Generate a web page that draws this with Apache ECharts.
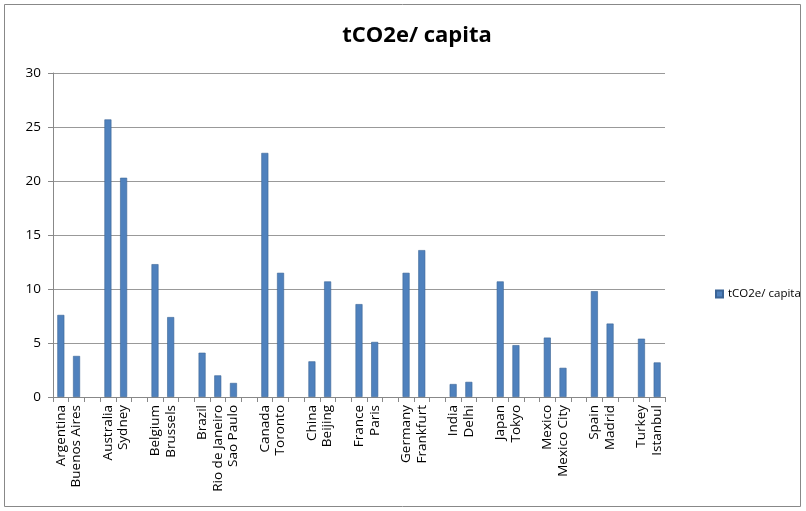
<!DOCTYPE html>
<html>
<head>
<meta charset="utf-8">
<script src="https://cdn.jsdelivr.net/npm/echarts@6/dist/echarts.min.js"></script>
<style>
html,body{margin:0;padding:0;background:#fff;}
#chart{width:806px;height:511px;}
</style>
</head>
<body>
<div id="chart"></div>
<script>
const categories = ['Argentina','Buenos Aires','','Australia','Sydney','','Belgium','Brussels','','Brazil','Rio de Janeiro','Sao Paulo','','Canada','Toronto','','China','Beijing','','France','Paris','','Germany','Frankfurt','','India','Delhi','','Japan','Tokyo','','Mexico','Mexico City','','Spain','Madrid','','Turkey','Istanbul'];
const values = [7.6,3.8,null,25.7,20.3,null,12.3,7.4,null,4.1,2.0,1.3,null,22.6,11.5,null,3.3,10.7,null,8.6,5.1,null,11.5,13.6,null,1.2,1.4,null,10.7,4.8,null,5.5,2.7,null,9.8,6.8,null,5.4,3.2];
const seriesName = 'tCO2e/ capita';
const yTicks = {min:0, max:30, interval:5};

const chart = echarts.init(document.getElementById('chart'));
const font = '"Open Sans", "Liberation Sans", sans-serif';
chart.setOption({
  animation:false,
  backgroundColor:'#fff',
  title:{text:'tCO2e/ capita', left:412, top:20, textAlign:'center',
    textStyle:{fontFamily:font, fontSize:22, fontWeight:'bold', color:'#000'}},
  graphic:[{type:'rect', shape:{x:4.5,y:4.5,width:796,height:502},
    style:{fill:'none', stroke:'#888', lineWidth:1}, silent:true}],
  legend:{data:[seriesName], left:710, top:283, itemWidth:7, itemHeight:7, itemGap:4,
    textStyle:{fontFamily:font, fontSize:11.5, color:'#000'}, icon:'rect'},
  grid:{left:53, right:141, top:73, bottom:114, containLabel:false},
  xAxis:{type:'category', data:categories,
    axisLine:{lineStyle:{color:'#888'}},
    axisTick:{show:true, interval:0, alignWithLabel:false, length:5, lineStyle:{color:'#888'}},
    axisLabel:{interval:0, rotate:90, fontFamily:font, fontSize:13.5, color:'#000', margin:8}},
  yAxis:{type:'value', min:yTicks.min, max:yTicks.max, interval:yTicks.interval,
    axisLine:{show:true, lineStyle:{color:'#888'}},
    axisTick:{show:true, length:5, lineStyle:{color:'#888'}},
    splitLine:{lineStyle:{color:'#999', width:1}},
    axisLabel:{fontFamily:font, fontSize:13.5, color:'#000', margin:12}},
  series:[{name:seriesName, type:'bar', data:values, barWidth:7,
    itemStyle:{color:'#4F81BD', borderColor:'#3B6496', borderWidth:0.6}}]
});
</script>
</body>
</html>
